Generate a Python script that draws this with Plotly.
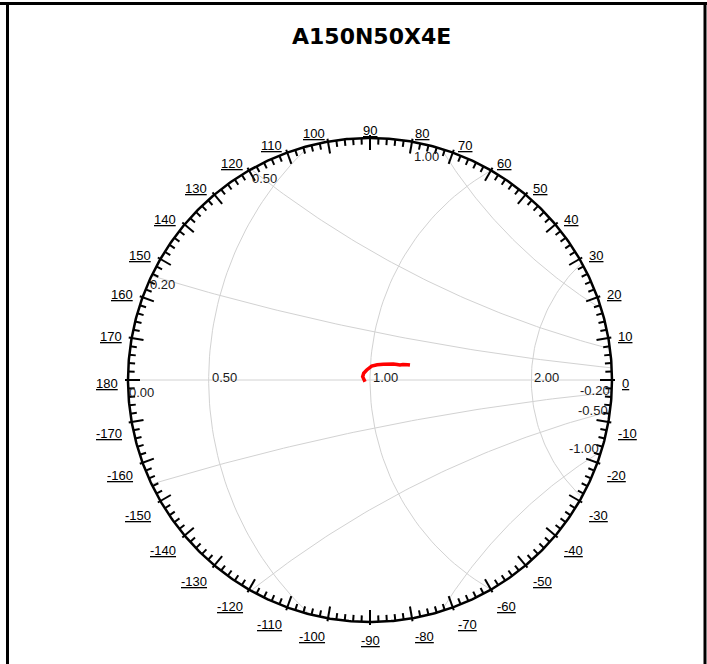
import numpy as np
import plotly.graph_objects as go

# ---------------- data ----------------
title_text = "A150N50X4E"
resistance_values = [0.5, 1.0, 2.0]          # constant-resistance circles
reactance_values = [0.2, 0.5, 1.0]           # constant-reactance arcs (+/-)
real_label_values = [0.0, 0.5, 1.0, 2.0]
real_label_text = ["0.00", "0.50", "1.00", "2.00"]
reactance_label_text = ["0.20", "0.50", "1.00"]
neg_reactance_label_text = ["-0.20", "-0.50", "-1.00"]
angle_labels_deg = list(range(-170, 190, 10))
gamma_max = 0.5                               # |Gamma| at the outer circle

# measured reflection coefficient (real, imag)
gamma_re = [-0.0103, -0.0151, -0.0130, -0.0068, 0.0035, 0.0150, 0.0275, 0.0380,
            0.0481, 0.0560, 0.0620, 0.0680, 0.0723, 0.0780, 0.0826]
gamma_im = [-0.0035, 0.0068, 0.0140, 0.0207, 0.0289, 0.0315, 0.0324, 0.0335,
            0.0331, 0.0322, 0.0310, 0.0318, 0.0324, 0.0316, 0.0310]

# ---------------- layout constants ----------------
W, H = 707, 664
CX, CY = 370.0, 380.0          # chart centre in pixels
R_PX = 242.0                   # outer circle radius in pixels
K = R_PX / gamma_max           # pixels per Gamma unit
GRID = "#d2d2d2"
TXT = "#1a1a1a"
FONT = "Liberation Sans, Arial, sans-serif"


def px(d):
    return d / K


fig = go.Figure()


def clipped_circle(cx, cy, rho, n=80):
    """Arc of circle (cx,cy,rho) that lies inside |G|<=gamma_max."""
    d = np.hypot(cx, cy)
    G = gamma_max
    a = (G * G - rho * rho + d * d) / (2 * d)
    h = np.sqrt(max(G * G - a * a, 0.0))
    ux, uy = cx / d, cy / d
    p1 = (a * ux - h * uy, a * uy + h * ux)
    p2 = (a * ux + h * uy, a * uy - h * ux)
    t1 = np.arctan2(p1[1] - cy, p1[0] - cx)
    t2 = np.arctan2(p2[1] - cy, p2[0] - cx)
    cand = []
    for s, e in ((t1, t2), (t2, t1)):
        while e < s:
            e += 2 * np.pi
        m = 0.5 * (s + e)
        mx, my = cx + rho * np.cos(m), cy + rho * np.sin(m)
        cand.append((np.hypot(mx, my), s, e))
    cand.sort()
    _, s, e = cand[0]
    t = np.linspace(s, e, n)
    return cx + rho * np.cos(t), cy + rho * np.sin(t), p1, p2


# resistance circles
for r in resistance_values:
    xs, ys, _, _ = clipped_circle(r / (1 + r), 0.0, 1 / (1 + r))
    fig.add_trace(go.Scatter(x=xs, y=ys, mode="lines", line=dict(color=GRID, width=1),
                             hoverinfo="skip", showlegend=False))

# real axis
fig.add_trace(go.Scatter(x=[-gamma_max, gamma_max], y=[0, 0], mode="lines",
                         line=dict(color=GRID, width=1), hoverinfo="skip", showlegend=False))

# reactance arcs
react_pts = {}
for xv in reactance_values:
    for sgn in (1, -1):
        xs, ys, p1, p2 = clipped_circle(1.0, sgn / xv, 1 / xv)
        react_pts[(xv, sgn)] = (p1, p2)
        fig.add_trace(go.Scatter(x=xs, y=ys, mode="lines", line=dict(color=GRID, width=1),
                                 hoverinfo="skip", showlegend=False))

# outer circle
t = np.linspace(0, 2 * np.pi, 721)
fig.add_trace(go.Scatter(x=gamma_max * np.cos(t), y=gamma_max * np.sin(t), mode="lines",
                         line=dict(color="black", width=2.5), hoverinfo="skip", showlegend=False))


def ticks(angles, r_in, r_out):
    xs, ys = [], []
    for a in angles:
        c, s = np.cos(np.radians(a)), np.sin(np.radians(a))
        xs += [px(r_in) * c, px(r_out) * c, None]
        ys += [px(r_in) * s, px(r_out) * s, None]
    return xs, ys


minor = [a for a in range(0, 360, 2) if a % 10 != 0]
major = list(range(0, 360, 10))
mx_, my_ = ticks(minor, R_PX - 6.5, R_PX)
fig.add_trace(go.Scatter(x=mx_, y=my_, mode="lines", line=dict(color="black", width=2),
                         hoverinfo="skip", showlegend=False))
Mx_, My_ = ticks(major, R_PX - 12, R_PX + 3)
fig.add_trace(go.Scatter(x=Mx_, y=My_, mode="lines", line=dict(color="black", width=2),
                         hoverinfo="skip", showlegend=False))

# data trace
fig.add_trace(go.Scatter(x=gamma_re, y=gamma_im, mode="lines",
                         line=dict(color="#ff0000", width=3.5), showlegend=False,
                         hovertemplate="Re %{x:.3f}<br>Im %{y:.3f}<extra></extra>"))

ann = []
# angle labels
RL = R_PX + 8
for a in angle_labels_deg:
    c, s = np.cos(np.radians(a)), np.sin(np.radians(a))
    if abs(c) < 1e-6:
        xa = "center"
    elif c > 0:
        xa = "left"
    else:
        xa = "right"
    if a in (0, 180):
        ys = -3
    elif a > 0:
        ys = 0
    else:
        ys = -10
    ann.append(dict(x=px(RL) * c, y=px(RL) * s, xref="x", yref="y", text="<u>%d</u>" % a,
                    showarrow=False, xanchor=xa, yanchor="middle", yshift=ys,
                    font=dict(family=FONT, size=13, color="black")))

# real axis labels
for v, txt in zip(real_label_values, real_label_text):
    g = (v - 1) / (v + 1)
    g = max(g, -gamma_max)
    yshift = -12 if v == 0 else 3
    ann.append(dict(x=g, y=0, xref="x", yref="y", text=txt, showarrow=False,
                    xanchor="left", yanchor="middle", xshift=-1 if v == 0 else 1, yshift=yshift,
                    font=dict(family=FONT, size=13, color=TXT)))

# reactance labels
pos_style = {0.2: ("left", -4, -9), 0.5: ("left", -1, -9), 1.0: ("right", 0, -8)}
for xv, txt in zip(reactance_values, reactance_label_text):
    p1, p2 = react_pts[(xv, 1)]
    p = p1 if p1[0] < p2[0] else p2
    xa, xs_, ys_ = pos_style[xv]
    ann.append(dict(x=p[0], y=p[1], xref="x", yref="y", text=txt, showarrow=False,
                    xanchor=xa, yanchor="middle", xshift=xs_, yshift=ys_,
                    font=dict(family=FONT, size=13, color=TXT)))
neg_style = {0.2: 2, 0.5: 1, 1.0: 3}
for xv, txt in zip(reactance_values, neg_reactance_label_text):
    p1, p2 = react_pts[(xv, -1)]
    p = p1 if p1[0] > p2[0] else p2
    ann.append(dict(x=p[0], y=p[1], xref="x", yref="y", text=txt, showarrow=False,
                    xanchor="right", yanchor="middle", xshift=0, yshift=neg_style[xv],
                    font=dict(family=FONT, size=13, color=TXT)))

# title
ann.append(dict(x=371.5 / W, y=1 - 36 / H, xref="paper", yref="paper", text="<b>%s</b>" % title_text,
                showarrow=False, xanchor="center", yanchor="middle",
                font=dict(family="DejaVu Sans, sans-serif", size=22, color="black")))

shapes = [
    dict(type="line", xref="paper", yref="paper", x0=0, x1=1, y0=1 - 3.5 / H, y1=1 - 3.5 / H,
         line=dict(color="black", width=3)),
    dict(type="line", xref="paper", yref="paper", x0=7.5 / W, x1=7.5 / W, y0=0, y1=1 - 3.5 / H,
         line=dict(color="black", width=3)),
    dict(type="line", xref="paper", yref="paper", x0=705 / W, x1=705 / W, y0=0, y1=1 - 3.5 / H,
         line=dict(color="black", width=3)),
]

fig.update_layout(
    width=W, height=H, margin=dict(l=0, r=0, t=0, b=0),
    paper_bgcolor="white", plot_bgcolor="white",
    xaxis=dict(range=[-CX / K, (W - CX) / K], visible=False, fixedrange=True),
    yaxis=dict(range=[-(H - CY) / K, CY / K], visible=False, fixedrange=True),
    annotations=ann, shapes=shapes, showlegend=False,
)

fig.write_html("out.html", config={"displayModeBar": False},
               post_script="document.body.style.margin='0';document.body.style.overflow='hidden';")
